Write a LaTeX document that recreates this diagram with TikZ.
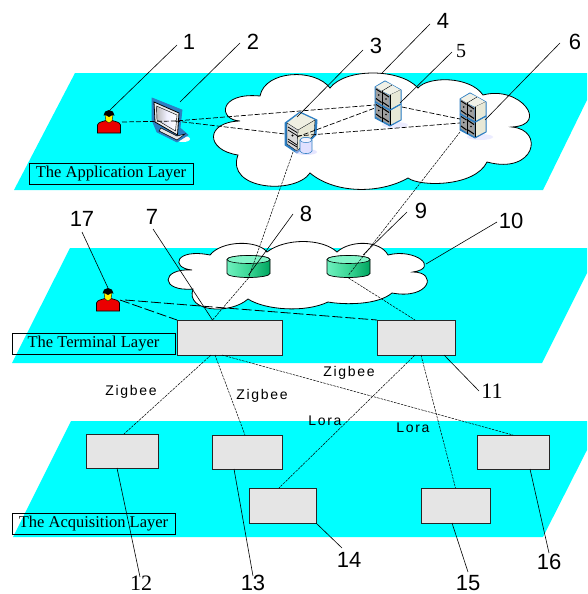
\documentclass[tikz,border=0pt]{standalone}
\usepackage{fontspec}
\setmainfont{Liberation Serif}
\newfontfamily\sfnum{Liberation Sans}
\newfontfamily\zigfont[LetterSpace=12]{Liberation Sans}
\usetikzlibrary{calc}
\definecolor{planecyan}{RGB}{0,255,255}
\definecolor{iconblue}{RGB}{46,127,194}
\definecolor{boxgray}{RGB}{229,229,229}
\definecolor{beige}{RGB}{232,232,214}
\definecolor{dbleft}{RGB}{110,240,190}
\definecolor{dbmid}{RGB}{60,215,150}
\definecolor{dbright}{RGB}{0,165,95}
\definecolor{dbtop}{RGB}{130,245,200}
\tikzset{
  x=1pt,y=-1pt,
  plane/.style={fill=planecyan,draw=none},
  cloudshape/.style={fill=white,draw=black,line width=0.8pt},
  graybox/.style={draw=black!85,line width=0.8pt,fill=boxgray,inner sep=0pt,outer sep=0pt,anchor=north west},
  layerbox/.style={draw=black,line width=0.7pt,inner sep=0pt,outer sep=0pt,anchor=center,font=\fontsize{16.5}{16.5}\selectfont},
  leader/.style={draw=black,line width=0.6pt},
  longdash/.style={draw=black,line width=0.7pt,dash pattern=on 5pt off 2pt},
  termdash/.style={draw=black,line width=0.8pt,dash pattern=on 10pt off 3pt},
  thindash/.style={draw=black,line width=0.5pt,dash pattern=on 2.5pt off 1pt},
  numsans/.style={anchor=base,inner sep=0pt,font=\sfnum\fontsize{22}{22}\selectfont},
  numserif/.style={anchor=base,inner sep=0pt,font=\fontsize{22}{22}\selectfont},
  netlabel/.style={anchor=center,inner sep=0pt,font=\zigfont\fontsize{14}{14}\selectfont},
  dbanchor/.style={minimum width=43pt,minimum height=23pt,inner sep=0pt,outer sep=0pt},
  person/.pic={
    \fill[red!92!black,draw=black,line width=0.7pt] (-11.5,19) -- (-11.5,11) .. controls (-11,8) and (-6,7.5) .. (-3,6.5) -- (3,6.5) .. controls (6,7.5) and (11,8) .. (11.5,11) -- (11.5,19) -- cycle;
    \fill[yellow,draw=black,line width=0.4pt] (-4,1) -- (4,1) -- (3,7) -- (0,9) -- (-3,7) -- cycle;
    \fill[black] (-5.5,1.5) arc[start angle=180,end angle=360,radius=5.5] -- (3.5,1) -- (0,3) -- (-3.5,1) -- cycle;
  },
  monitor/.pic={
    \fill[white] (31,41) ellipse[x radius=7,y radius=3];
    \fill[iconblue,draw=iconblue,line width=0.8pt,line join=round] (0,0) -- (30,12) -- (28,30) -- (36,37) -- (25,44) -- (5,34) -- (0,22) -- cycle;
    \fill[boxgray,draw=black,line width=0.5pt] (9,30) -- (25,38) -- (33,36) -- (25,42) -- (7,33) -- cycle;
    \fill[boxgray!70,draw=black,line width=0.8pt] (2,4) -- (27,15) -- (25.5,37) -- (3,24) -- cycle;
    \shade[left color=gray!55,right color=white,middle color=blue!6,draw=black,line width=0.4pt] (4.5,8) -- (25,17) -- (23.5,33) -- (5,22) -- cycle;
  },
  serverpic/.pic={
    \fill[iconblue,draw=iconblue,line width=1pt,line join=round] (0,0) -- (17,8) -- (16,23) -- (-3,41) -- (-15,33) -- (-15,11) -- cycle;
    \fill[beige!70!white] (-13,11) -- (0,1) -- (15,8) -- (-2,18) -- cycle;
    \fill[beige,draw=black,line width=0.3pt] (-2,18) -- (15,8) -- (14,23) -- (-3,39) -- cycle;
    \fill[gray!30,draw=black,line width=0.3pt] (-13,11) -- (-2,18) -- (-3,39) -- (-13,32) -- cycle;
    \draw[black,line width=0.8pt] (-12,15) -- (-3,20.5) (-12,18) -- (-3,23.5) (-12,27) -- (-3,33) (-12,29.5) -- (-3,35);
    \fill[black] (-7.5,23.5) circle[radius=1.2];
    \fill[white!80!blue,opacity=.5] (6,40) ellipse[x radius=11,y radius=3];
    \fill[blue!12,draw=iconblue,line width=0.6pt] (0,28) -- (0,39) arc[start angle=180,end angle=0,x radius=6,y radius=2.5] -- (12,28) arc[start angle=0,end angle=-180,x radius=6,y radius=2.5];
    \draw[iconblue,line width=0.5pt,fill=blue!5] (6,28) ellipse[x radius=6,y radius=2.5];
  },
  rackpic/.pic={
    \fill[blue!12,opacity=.6] (20,38) ellipse[x radius=13,y radius=3];
    \fill[iconblue,draw=iconblue,line width=1pt,line join=round] (0,0) -- (10,-6) -- (26,3) -- (26,33) -- (15,39) -- (0,31) -- cycle;
    \fill[beige!60!white] (0.5,0) -- (10,-5.5) -- (17,-2) -- (7,4) -- cycle;
    \fill[beige!60!white] (7,4) -- (17,-2) -- (25.5,3) -- (15,8) -- cycle;
    \draw[black,line width=0.4pt] (7,4) -- (17,-2) (15,8) -- (25.5,3);
    \fill[beige] (15,8) -- (25.5,3) -- (25.5,16.5) -- (15,22.5) -- cycle;
    \fill[beige] (15,24) -- (25.5,18) -- (25.5,32.5) -- (15,38) -- cycle;
    \foreach \yy in {0,15.5}{
      \fill[gray!75] (0.7,{\yy+0.5}) -- (6.8,{\yy+4}) -- (6.8,{\yy+18}) -- (0.7,{\yy+14}) -- cycle;
      \fill[gray!75] (7.2,{\yy+4.5}) -- (14.6,{\yy+8.5}) -- (14.6,{\yy+22}) -- (7.2,{\yy+18}) -- cycle;
      \draw[black,line width=1pt] (1,{\yy+2}) -- (6.5,{\yy+5.5}) (8,{\yy+6}) -- (14,{\yy+10}) (1,{\yy+11.5}) -- (6.5,{\yy+15.5}) (8,{\yy+15.5}) -- (14,{\yy+19.5});
      \fill[black] (3.7,{\yy+8}) circle[radius=0.9] (11,{\yy+12}) circle[radius=0.9];
    }
    \draw[black,line width=0.5pt] (7,4) -- (7,35) (15,8) -- (15,38);
    \draw[iconblue,line width=1pt] (0,15) -- (15,23) -- (26,17);
  }
}
\begin{document}
\begin{tikzpicture}
\useasboundingbox (0,0) rectangle (587,594);
% layers
\fill[plane] (75,73) -- (587,73) -- (587,100) -- (543,190) -- (14,190) -- cycle;
\fill[plane] (70,248) -- (587,248) -- (587,273) -- (542,363) -- (12,363) -- cycle;
\fill[plane] (71,421) -- (587,421) -- (587,450) -- (543,537) -- (13,537) -- cycle;
% clouds
\draw[cloudshape] (240,121) .. controls (218,120) and (218,92) .. (260,96)
  .. controls (265,70) and (315,68) .. (330,88)
  .. controls (345,68) and (400,68) .. (418,88)
  .. controls (428,76) and (470,76) .. (483,95)
  .. controls (520,85) and (550,125) .. (512,127)
  .. controls (545,130) and (535,175) .. (487,162)
  .. controls (475,187) and (420,187) .. (408,178)
  .. controls (380,194) and (335,194) .. (310,173)
  .. controls (295,195) and (225,190) .. (238,155)
  .. controls (205,150) and (205,122) .. (240,121) -- cycle;
\draw[cloudshape] (192,270) .. controls (170,268) and (175,248) .. (210,255)
  .. controls (222,240) and (258,240) .. (267,252)
  .. controls (285,238) and (322,238) .. (337,252)
  .. controls (350,240) and (380,240) .. (388,255)
  .. controls (415,248) and (440,268) .. (413,272)
  .. controls (438,272) and (430,300) .. (392,293)
  .. controls (378,305) and (345,305) .. (328,302)
  .. controls (305,313) and (265,310) .. (248,299)
  .. controls (230,315) and (185,312) .. (193,289)
  .. controls (160,292) and (160,268) .. (192,270) -- cycle;
% free ends of the leaders
\coordinate (t1) at (177,45); \coordinate (t2) at (240,43); \coordinate (t3) at (363,50);
\coordinate (t4) at (430,24); \coordinate (t5) at (452,52); \coordinate (t6) at (560,43);
\coordinate (t7) at (153,229); \coordinate (t8) at (293,214); \coordinate (t9) at (407,212);
\coordinate (t10) at (497,222); \coordinate (t11) at (479,391); \coordinate (t12) at (140,577);
\coordinate (t13) at (253,576); \coordinate (t14) at (342,548); \coordinate (t15) at (468,572);
\coordinate (t16) at (549,553); \coordinate (t17) at (82,232);
\coordinate (cloudA) at (382,73); \coordinate (cloudB) at (426,264);
% icons
\coordinate (p1) at (109,114); \coordinate (p17) at (108,292);
\coordinate (mon) at (152,98); \coordinate (srv) at (300,112);
\coordinate (rackA) at (375,87); \coordinate (rackB) at (460,99);
\pic at (p1) {person};
\pic at (p17) {person};
\pic at (mon) {monitor};
\pic at (srv) {serverpic};
\pic at (rackA) {rackpic};
\pic at (rackB) {rackpic};
% databases
\node[dbanchor] (db8) at (248.5,266.5) {};
\node[dbanchor] (db9) at (348.5,266.5) {};
\foreach \d in {db8,db9}{
  \path[left color=dbleft,right color=dbright,middle color=dbmid,draw=black,line width=0.7pt]
    ($(\d.center)+(-21.5,-7)$) -- ($(\d.center)+(-21.5,7)$) arc[start angle=180,end angle=0,x radius=21.5,y radius=4] -- ($(\d.center)+(21.5,-7)$) arc[start angle=0,end angle=-180,x radius=21.5,y radius=4] -- cycle;
  \draw[black,line width=0.6pt,fill=dbtop] ($(\d.center)+(0,-7)$) ellipse[x radius=21.5,y radius=4];
}
% boxes
\node[graybox,minimum width=105pt,minimum height=35pt] (r7) at (177,320) {};
\node[graybox,minimum width=78pt,minimum height=35pt] (r11) at (377,320) {};
\node[graybox,minimum width=72pt,minimum height=34pt] (r12) at (86,434) {};
\node[graybox,minimum width=70pt,minimum height=34pt] (r13) at (212,435) {};
\node[graybox,minimum width=67pt,minimum height=35pt] (r14) at (249,488) {};
\node[graybox,minimum width=69pt,minimum height=35pt] (r15) at (421,488) {};
\node[graybox,minimum width=72pt,minimum height=34pt] (r16) at (477,435) {};
\node[layerbox,minimum width=164pt,minimum height=21pt] (lay1) at (111,174) {The Application Layer};
\node[layerbox,minimum width=163pt,minimum height=21pt] (lay2) at (93.5,343.5) {The Terminal Layer};
\node[layerbox,minimum width=163pt,minimum height=21pt] (lay3) at (93.5,523.5) {The Acquisition Layer};
% long dashed links, application layer
\path[longdash] ([shift={(13,8)}]p1) -- ([shift={(23,23)}]mon) -- ([shift={(0,18)}]rackA);
\path[longdash] ([shift={(23,23)}]mon) -- ([shift={(-15,22)}]srv);
\path[longdash] ([shift={(-3,25)}]srv) -- ([shift={(0,21)}]rackA);
\path[longdash] ([shift={(-3,24)}]srv) -- ([shift={(0,24)}]rackB);
\path[longdash] ([shift={(27,20)}]rackA) -- ([shift={(0,20)}]rackB);
% long dashed links, terminal layer
\path[termdash] ([shift={(12,8)}]p17) -- (r7.north west);
\path[termdash] ([shift={(17,8)}]p17) -- (r11.north west);
% thin dashed links
\path[thindash] ([shift={(-7,40)}]srv) -- ([yshift=-11.5pt]db8.center);
\path[thindash] ([shift={(0,33)}]rackB) -- ([yshift=-8.5pt]db9.center);
\path[thindash] (db8.south) -- ([xshift=-17pt]r7.north);
\path[thindash] (db9.south) -- ([xshift=-1pt]r11.north);
\path[thindash] ([xshift=-18.5pt]r7.south) -- ([xshift=2pt]r12.north);
\path[thindash] ([xshift=-14.5pt]r7.south) -- ([xshift=-2pt]r13.north);
\path[thindash] ([xshift=-7.5pt]r7.south) -- (r16.north);
\path[thindash] ([xshift=-1pt]r11.south) -- ([xshift=-3.5pt]r14.north);
\path[thindash] ([xshift=5pt]r11.south) -- (r15.north);
% leaders
\path[leader] (t1) -- ([shift={(1,-4)}]p1);
\path[leader] (t2) -- ([shift={(28,4)}]mon);
\path[leader] (t3) -- ([shift={(-3,5)}]srv);
\path[leader] (t4) -- (cloudA);
\path[leader] (t5) -- ([shift={(25,16)}]rackA);
\path[leader] (t6) -- ([shift={(25,21)}]rackB);
\path[leader] (t7) -- ([xshift=-17pt]r7.north);
\path[leader] (t8) -- ([yshift=-8.5pt]db8.center);
\path[leader] (t9) -- ([shift={(14.5,-11.5)}]db9.center);
\path[leader] (t10) -- (cloudB);
\path[leader] (t11) -- ([xshift=28pt]r11.south);
\path[leader] (t12) -- ([xshift=-5pt]r12.south);
\path[leader] (t13) -- ([xshift=-13pt]r13.south);
\path[leader] (t14) -- (r14.south east);
\path[leader] (t15) -- ([xshift=-3.5pt]r15.south);
\path[leader] (t16) -- ([xshift=17pt]r16.south);
\path[leader] (t17) -- ([shift={(0,-4)}]p17);
% network labels
\node[netlabel] (zb1) at (131,392) {Zigbee};
\node[netlabel] (zb2) at (262,396) {Zigbee};
\node[netlabel] (zb3) at (349,373) {Zigbee};
\node[netlabel] (lo1) at (325,421) {Lora};
\node[netlabel] (lo2) at (413,428) {Lora};
% numbers
\node[numsans] (n1) at (189,50) {1};
\node[numsans] (n2) at (253,50) {2};
\node[numsans] (n3) at (376,53) {3};
\node[numsans] (n4) at (443,29) {4};
\node[numserif,font=\fontsize{20}{20}\selectfont] (n5) at (461,57) {5};
\node[numsans] (n6) at (575,49) {6};
\node[numsans] (n7) at (152,224) {7};
\node[numsans] (n8) at (306,221) {8};
\node[numsans] (n9) at (421,218) {9};
\node[numsans] (n10) at (511,228) {10};
\node[numserif] (n11) at (492,398) {11};
\node[numserif] (n12) at (141,590) {12};
\node[numsans] (n13) at (253,590) {13};
\node[numsans] (n14) at (349,567) {14};
\node[numsans] (n15) at (468,590) {15};
\node[numsans] (n16) at (549,569) {16};
\node[numsans] (n17) at (82,226) {17};
\end{tikzpicture}
\end{document}
